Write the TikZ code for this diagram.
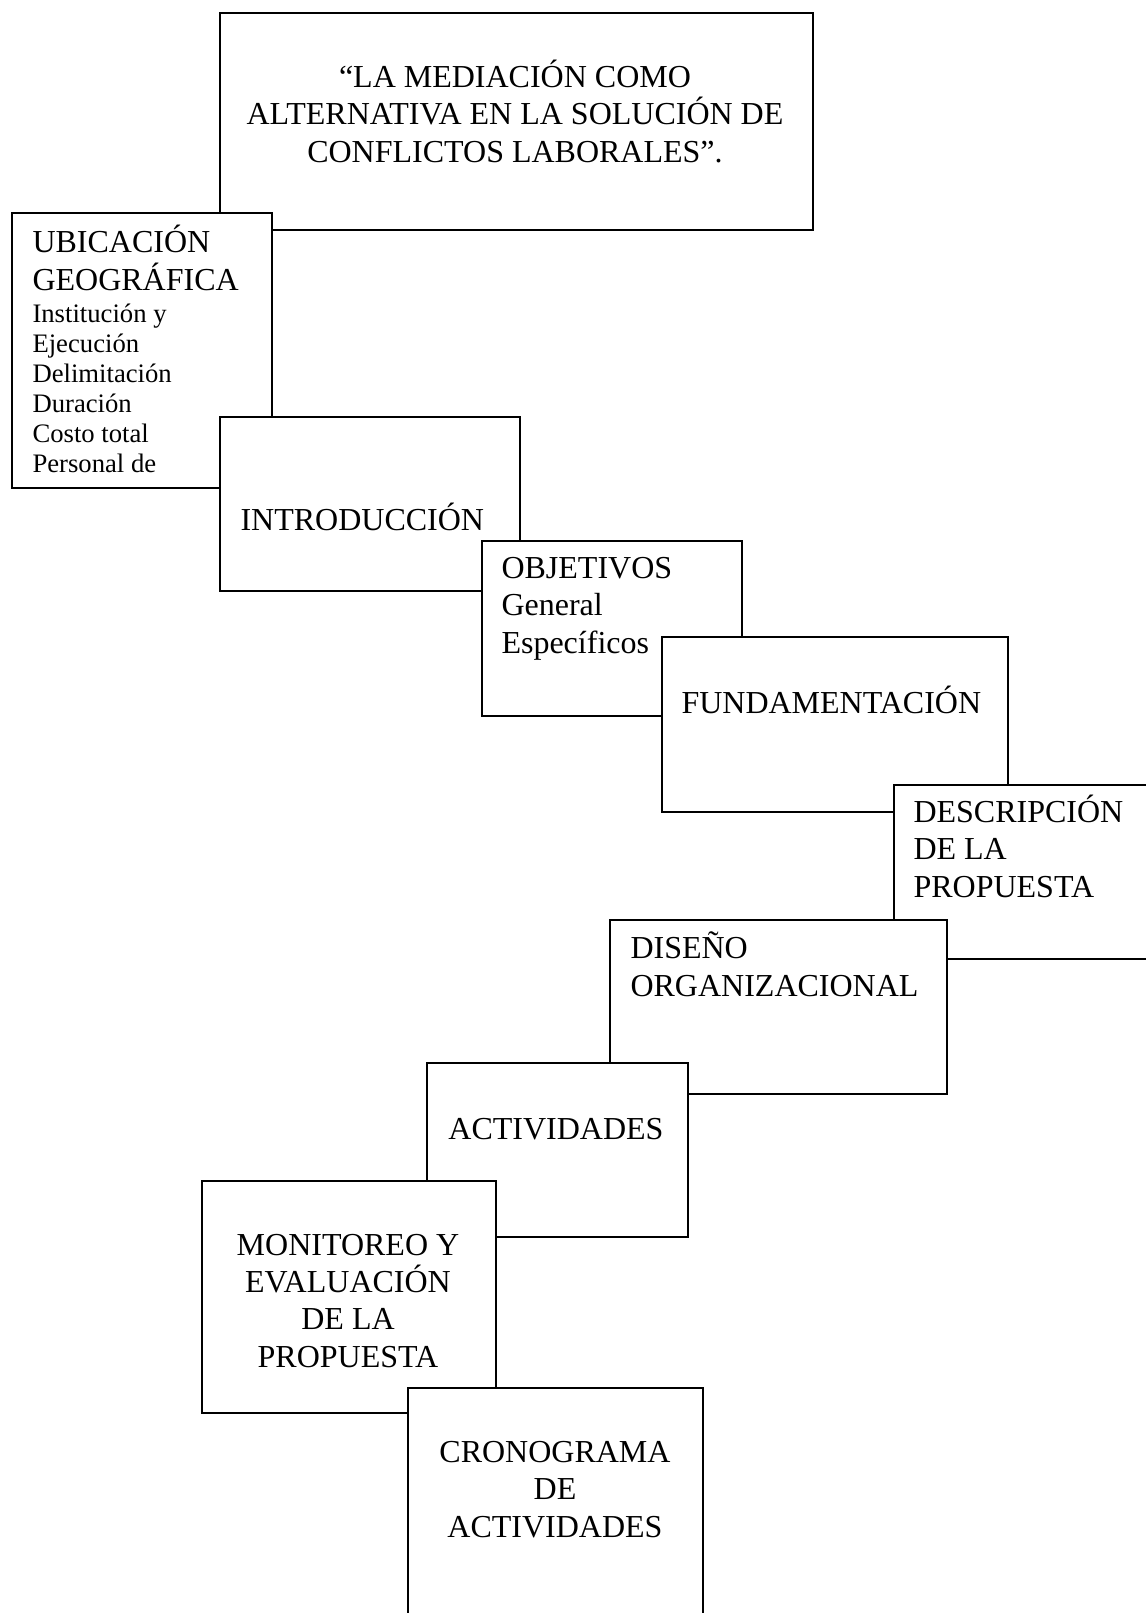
\documentclass[tikz,border=0pt]{standalone}
\usepackage{fontspec}
\setmainfont{Liberation Serif}
\def\px{0.375pt}
\tikzset{
  caja/.style={draw, fill=white, line width=0.8pt, inner sep=0pt, anchor=north west},
  grande/.style={inner sep=0pt, font=\fontsize{12}{13.9}\selectfont},
  chica/.style={inner sep=0pt, font=\fontsize{10}{11.2}\selectfont}
}
\begin{document}
\begin{tikzpicture}[x=0.375pt, y=-0.375pt]
\clip (0,0) rectangle (1146,1613);
\node[caja, minimum width=593*\px, minimum height=217*\px] (B1) at (219, 12) {};
\node[grande, align=center, anchor=base] (T1) at (515, 162) {“LA MEDIACIÓN COMO\\ALTERNATIVA EN LA SOLUCIÓN DE\\CONFLICTOS LABORALES”.};
\node[caja, minimum width=260*\px, minimum height=275*\px] (B2) at (11, 212) {};
\node[grande, align=left, anchor=base west] (T2) at (32, 290) {UBICACIÓN\\GEOGRÁFICA};
\node[chica, align=left, anchor=base west] (T2b) at (32, 472) {Institución y\\Ejecución\\Delimitación\\Duración\\Costo total\\Personal de};
\node[caja, minimum width=300*\px, minimum height=174*\px] (B3) at (219, 416) {};
\node[grande, anchor=base west] (T3) at (240, 530) {INTRODUCCIÓN};
\node[caja, minimum width=260*\px, minimum height=175*\px] (B4) at (481, 540) {};
\node[grande, align=left, anchor=base west] (T4) at (501, 653) {OBJETIVOS\\General\\Específicos};
\node[caja, minimum width=346*\px, minimum height=175*\px] (B5) at (661, 636) {};
\node[grande, anchor=base west] (T5) at (681, 713) {FUNDAMENTACIÓN};
\node[caja, minimum width=300*\px, minimum height=174*\px] (B6) at (893, 784) {};
\node[grande, align=left, anchor=base west] (T6) at (913, 897) {DESCRIPCIÓN\\DE LA\\PROPUESTA};
\node[caja, minimum width=337*\px, minimum height=174*\px] (B7) at (609, 919) {};
\node[grande, align=left, anchor=base west] (T7) at (630, 996) {DISEÑO\\ORGANIZACIONAL};
\node[caja, minimum width=261*\px, minimum height=174*\px] (B8) at (426, 1062) {};
\node[grande, anchor=base] (T8) at (556, 1139) {ACTIVIDADES};
\node[caja, minimum width=294*\px, minimum height=232*\px] (B9) at (201, 1180) {};
\node[grande, align=center, anchor=base] (T9) at (348, 1367) {MONITOREO Y\\EVALUACIÓN\\DE LA\\PROPUESTA};
\node[caja, minimum width=295*\px, minimum height=300*\px] (B10) at (407, 1387) {};
\node[grande, align=center, anchor=base] (T10) at (555, 1537) {CRONOGRAMA\\DE\\ACTIVIDADES};
\end{tikzpicture}
\end{document}
